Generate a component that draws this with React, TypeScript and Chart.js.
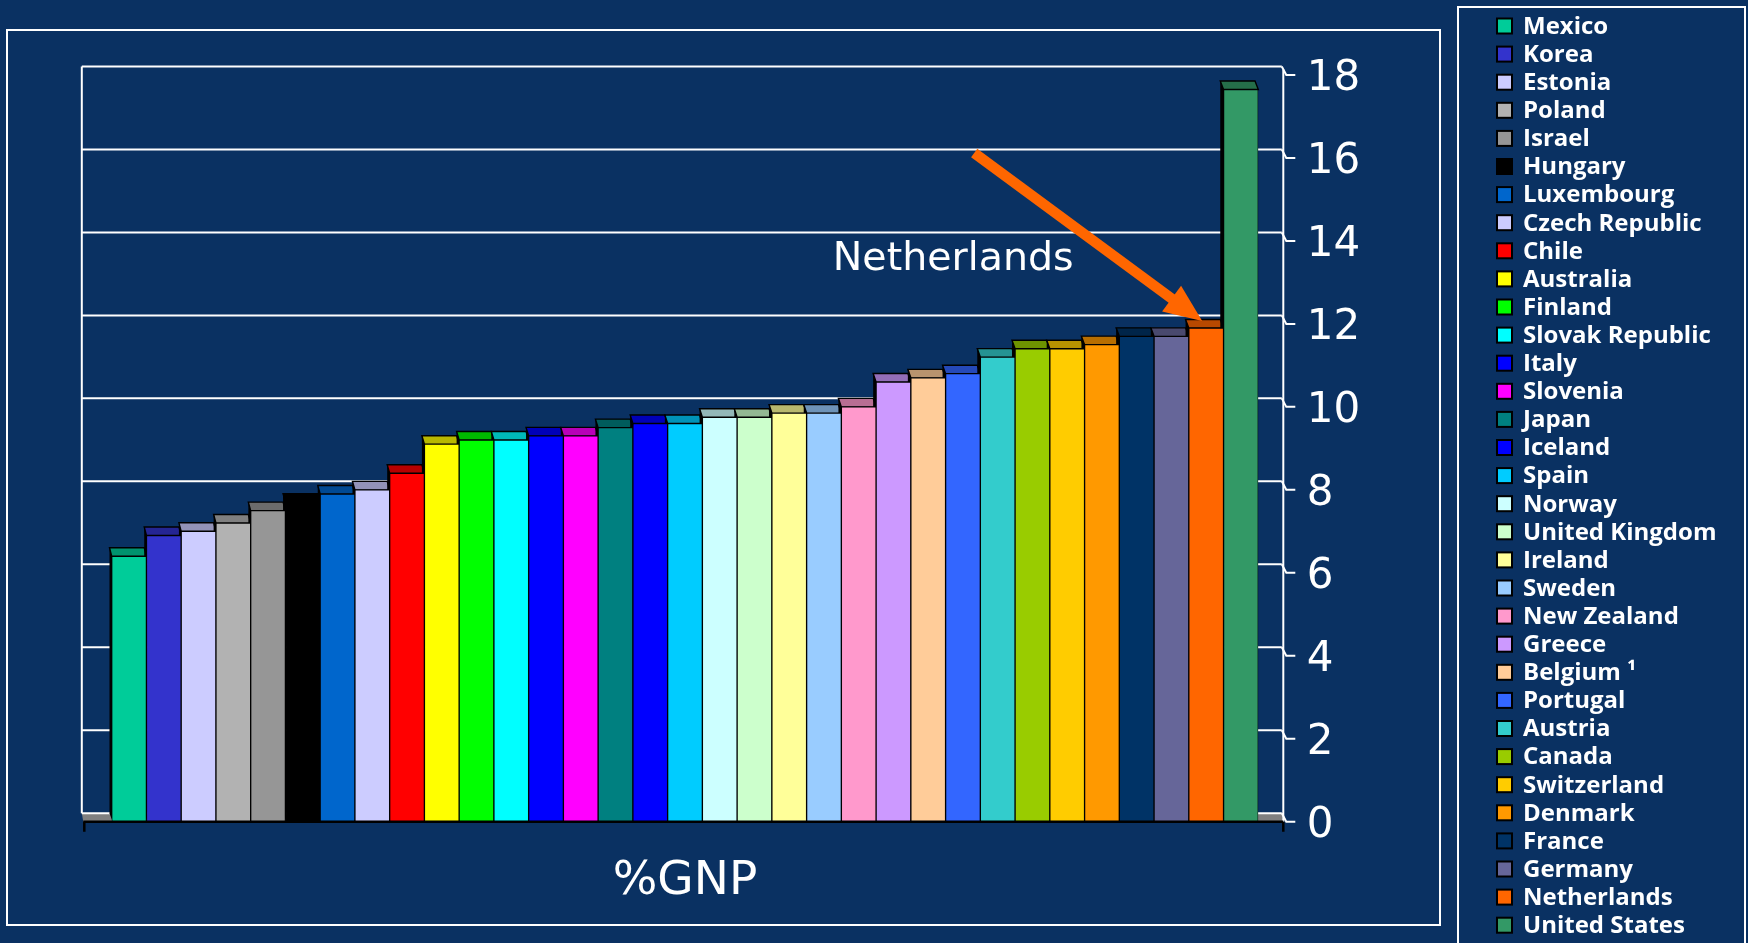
import React, { useEffect, useRef } from 'react';
import { Chart, registerables } from 'chart.js';

Chart.register(...registerables);

// ---------------- data ----------------
const countries = [
  'Mexico', 'Korea', 'Estonia', 'Poland', 'Israel', 'Hungary', 'Luxembourg',
  'Czech Republic', 'Chile', 'Australia', 'Finland', 'Slovak Republic', 'Italy',
  'Slovenia', 'Japan', 'Iceland', 'Spain', 'Norway', 'United Kingdom', 'Ireland',
  'Sweden', 'New Zealand', 'Greece', 'Belgium \u00B9', 'Portugal', 'Austria',
  'Canada', 'Switzerland', 'Denmark', 'France', 'Germany', 'Netherlands',
  'United States',
];

const spending = [
  6.4, 6.9, 7.0, 7.2, 7.5, 7.7, 7.9,
  8.0, 8.4, 9.1, 9.2, 9.2, 9.3,
  9.3, 9.5, 9.6, 9.6, 9.75, 9.75, 9.85,
  9.85, 10.0, 10.6, 10.7, 10.8, 11.2,
  11.4, 11.4, 11.5, 11.7, 11.7, 11.9,
  17.65,
];

const barColors = [
  '#00CC99', '#3333CC', '#CCCCFF', '#B2B2B2', '#969696', '#000000', '#0066CC',
  '#CCCCFF', '#FF0000', '#FFFF00', '#00FF00', '#00FFFF', '#0000FF',
  '#FF00FF', '#008080', '#0000FF', '#00CCFF', '#CCFFFF', '#CCFFCC', '#FFFF99',
  '#99CCFF', '#FF99CC', '#CC99FF', '#FFCC99', '#3366FF', '#33CCCC',
  '#99CC00', '#FFCC00', '#FF9900', '#003366', '#666699', '#FF6600',
  '#339966',
];

const yTicks = [0, 2, 4, 6, 8, 10, 12, 14, 16, 18];
const axisTitle = '%GNP';
const highlightCountry = 'Netherlands';

// ---------------- styling ----------------
const BG = '#0a3162';
const DEPTH_Y = -8.5;
const WALL_DX = -1.5;
const depthX = (i: number, n: number) => -2.2 - (1.1 * i) / Math.max(1, n - 1);
const FLOOR_LEFT_EXT = 28.4;
const FLOOR_RIGHT_EXT = 25;

function shade(hex: string, f: number) {
  const h = hex.replace('#', '');
  const r = Math.round(parseInt(h.slice(0, 2), 16) * f);
  const g = Math.round(parseInt(h.slice(2, 4), 16) * f);
  const b = Math.round(parseInt(h.slice(4, 6), 16) * f);
  return `rgb(${r},${g},${b})`;
}

function poly(ctx: CanvasRenderingContext2D, pts: number[][]) {
  ctx.beginPath();
  ctx.moveTo(pts[0][0], pts[0][1]);
  for (let k = 1; k < pts.length; k++) ctx.lineTo(pts[k][0], pts[k][1]);
  ctx.closePath();
}

const decorPlugin = {
  id: 'decor3d',
  beforeDraw(chart: any) {
    const { ctx, width, height } = chart;
    ctx.save();
    ctx.fillStyle = BG;
    ctx.fillRect(0, 0, width, height);
    ctx.strokeStyle = '#ffffff';
    ctx.lineWidth = 2;
    // outer chart frame
    ctx.strokeRect(7, 30, 1433, 895);
    // legend frame
    ctx.strokeRect(1458, 7, 287, 960);
    ctx.restore();
  },
  beforeDatasetsDraw(chart: any) {
    const { ctx, chartArea } = chart;
    const ys = chart.scales.y;
    const fl = chartArea.left - FLOOR_LEFT_EXT;
    const fr = chartArea.right + FLOOR_RIGHT_EXT;
    const y0 = ys.getPixelForValue(0);
    const yTop = ys.getPixelForValue(yTicks[yTicks.length - 1]);
    ctx.save();
    // floor
    ctx.fillStyle = '#808080';
    poly(ctx, [[fl, y0], [fr, y0], [fr + WALL_DX, y0 + DEPTH_Y], [fl + WALL_DX, y0 + DEPTH_Y]]);
    ctx.fill();
    // back wall grid lines
    ctx.strokeStyle = '#ffffff';
    ctx.lineWidth = 2;
    yTicks.forEach((v) => {
      const yf = ys.getPixelForValue(v);
      const yb = yf + DEPTH_Y;
      ctx.beginPath();
      ctx.moveTo(fl + WALL_DX, yb);
      ctx.lineTo(fr + WALL_DX, yb);
      ctx.stroke();
      // connector and tick mark
      ctx.beginPath();
      ctx.moveTo(fr + WALL_DX, yb);
      ctx.lineTo(fr + 3, yf);
      ctx.lineTo(fr + 12, yf);
      ctx.stroke();
    });
    // left wall edge
    ctx.beginPath();
    ctx.moveTo(fl + WALL_DX, yTop + DEPTH_Y);
    ctx.lineTo(fl + WALL_DX, y0 + DEPTH_Y);
    ctx.stroke();
    // right front edge
    ctx.beginPath();
    ctx.moveTo(fr, yTop + DEPTH_Y + 3);
    ctx.lineTo(fr, y0);
    ctx.stroke();

    // 3D side and top faces of bars
    const meta = chart.getDatasetMeta(0);
    const colors = chart.data.datasets[0].backgroundColor as string[];
    const n = meta.data.length;
    meta.data.forEach((bar: any, i: number) => {
      const p = bar.getProps(['x', 'y', 'base', 'width'], true);
      const l = p.x - p.width / 2;
      const r = p.x + p.width / 2;
      const dx = depthX(i, n);
      ctx.fillStyle = '#000000';
      poly(ctx, [[l + 1, p.y], [l + dx, p.y + DEPTH_Y], [l + dx, p.base + DEPTH_Y], [l + 1, p.base]]);
      ctx.fill();
      ctx.fillStyle = shade(colors[i], 0.72);
      poly(ctx, [[l, p.y], [r, p.y], [r + dx, p.y + DEPTH_Y], [l + dx, p.y + DEPTH_Y]]);
      ctx.fill();
      ctx.strokeStyle = '#000000';
      ctx.lineWidth = 1.4;
      ctx.stroke();
    });
    ctx.restore();
  },
  afterDatasetsDraw(chart: any) {
    const { ctx, chartArea } = chart;
    const ys = chart.scales.y;
    const fl = chartArea.left - FLOOR_LEFT_EXT;
    const fr = chartArea.right + FLOOR_RIGHT_EXT;
    const y0 = ys.getPixelForValue(0);
    ctx.save();
    // front floor edge
    ctx.strokeStyle = '#000000';
    ctx.lineWidth = 2.5;
    ctx.beginPath();
    ctx.moveTo(fl, y0);
    ctx.lineTo(fr, y0);
    ctx.moveTo(fl + 1, y0);
    ctx.lineTo(fl + 1, y0 + 10);
    ctx.moveTo(fr, y0);
    ctx.lineTo(fr, y0 + 10);
    ctx.stroke();

    // arrow pointing to highlighted country
    const idx = chart.data.labels.indexOf(highlightCountry);
    if (idx >= 0) {
      const bar = chart.getDatasetMeta(0).data[idx];
      const p = bar.getProps(['x', 'y'], true);
      const tipX = p.x - 4;
      const tipY = p.y - 7;
      const sx = tipX - 228;
      const sy = tipY - 168;
      const len = Math.hypot(tipX - sx, tipY - sy);
      const ux = (tipX - sx) / len;
      const uy = (tipY - sy) / len;
      const headLen = 38;
      const headHalf = 16;
      const bx = tipX - ux * headLen;
      const by = tipY - uy * headLen;
      ctx.strokeStyle = '#FF6600';
      ctx.fillStyle = '#FF6600';
      ctx.lineWidth = 10.5;
      ctx.lineCap = 'butt';
      ctx.beginPath();
      ctx.moveTo(sx, sy);
      ctx.lineTo(bx + ux * 4, by + uy * 4);
      ctx.stroke();
      ctx.beginPath();
      ctx.moveTo(tipX, tipY);
      ctx.lineTo(bx - uy * headHalf, by + ux * headHalf);
      ctx.lineTo(bx + uy * headHalf, by - ux * headHalf);
      ctx.closePath();
      ctx.fill();

      ctx.fillStyle = '#ffffff';
      ctx.font = '39.5px "DejaVu Sans"';
      ctx.textAlign = 'center';
      ctx.textBaseline = 'middle';
      ctx.fillText(highlightCountry, tipX - 249, tipY - 61);
    }
    ctx.restore();
  },
  afterDraw(chart: any) {
    const { ctx } = chart;
    const labels = chart.data.labels as string[];
    const colors = chart.data.datasets[0].backgroundColor as string[];
    ctx.save();
    ctx.font = 'bold 24px "Open Sans"';
    ctx.textAlign = 'left';
    ctx.textBaseline = 'middle';
    labels.forEach((lab, i) => {
      const cy = 26 + i * 28.1;
      ctx.fillStyle = colors[i];
      ctx.fillRect(1497, cy - 7.5, 15, 15);
      ctx.strokeStyle = '#000000';
      ctx.lineWidth = 2;
      ctx.strokeRect(1497, cy - 7.5, 15, 15);
      ctx.fillStyle = '#ffffff';
      ctx.fillText(lab, 1523, cy + 1);
    });
    ctx.restore();
  },
};

export default function App() {
  const canvasRef = useRef<HTMLCanvasElement | null>(null);

  useEffect(() => {
    document.body.style.margin = '0';
    document.body.style.background = BG;
    const canvas = canvasRef.current;
    if (!canvas) return;
    const chart = new Chart(canvas, {
      type: 'bar',
      data: {
        labels: countries,
        datasets: [
          {
            data: spending,
            backgroundColor: barColors,
            borderColor: '#000000',
            borderWidth: 1,
            borderSkipped: false,
            barPercentage: 1,
            categoryPercentage: 1,
          },
        ],
      },
      options: {
        responsive: false,
        animation: false,
        devicePixelRatio: 1,
        layout: { padding: { left: 111.7, top: 75, right: 369.7, bottom: 0 } },
        plugins: {
          legend: { display: false },
          tooltip: { enabled: false },
        },
        scales: {
          x: {
            type: 'category',
            offset: true,
            ticks: { display: false },
            grid: { display: false, drawTicks: false },
            border: { display: false },
            title: {
              display: true,
              text: axisTitle,
              color: '#ffffff',
              font: { family: 'DejaVu Sans', size: 47 },
              padding: { top: 0, bottom: 33 },
            },
            afterFit: (s: any) => {
              s.height = 121.3;
            },
          },
          y: {
            position: 'right',
            min: 0,
            max: 18,
            ticks: {
              stepSize: 2,
              color: '#ffffff',
              font: { family: 'DejaVu Sans', size: 42 },
              padding: 48.4,
              labelOffset: 4.5,
            },
            grid: { display: false, drawTicks: false },
            border: { display: false },
            afterFit: (s: any) => {
              s.width = 120;
            },
          },
        },
      },
      plugins: [decorPlugin],
    } as any);
    return () => chart.destroy();
  }, []);

  return (
    <div style={{ width: 1748, height: 943, background: BG, overflow: 'hidden' }}>
      <canvas ref={canvasRef} width={1748} height={943} style={{ display: 'block' }} />
    </div>
  );
}
